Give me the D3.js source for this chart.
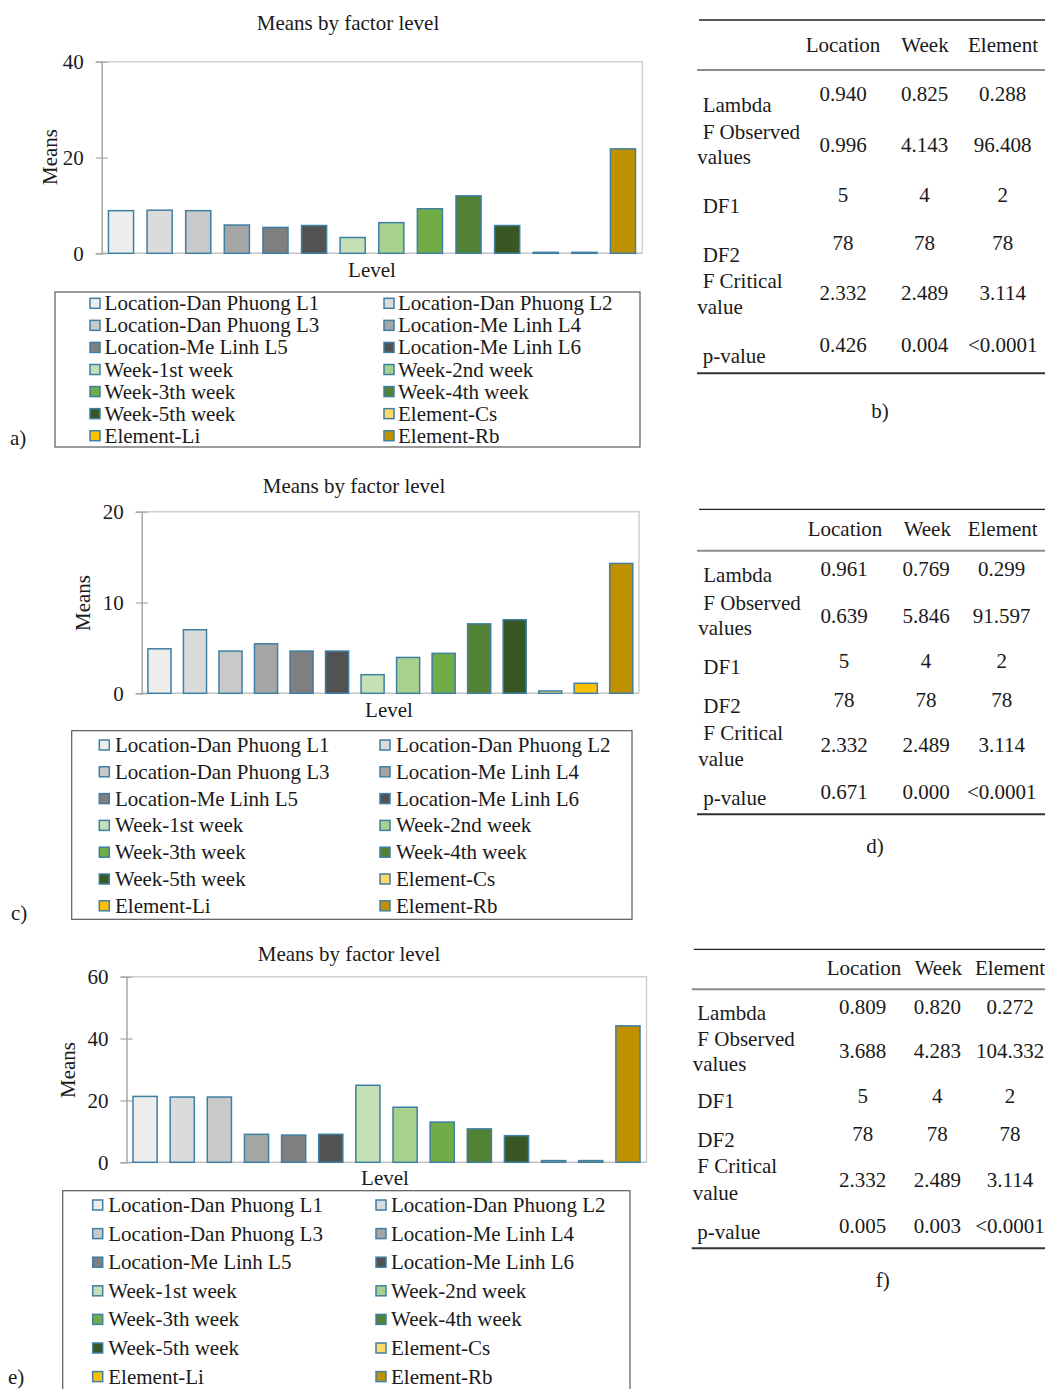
<!DOCTYPE html>
<html>
<head>
<meta charset="utf-8">
<script src="https://cdn.jsdelivr.net/npm/d3@7"></script>
<style>
  body { margin: 0; background: #fff; }
  svg { display: block; font-family: "Liberation Serif", "Times New Roman", serif; }
</style>
</head>
<body>
<svg id="fig" width="1045" height="1389"></svg>
<script>
// ---- Factor levels and their colours ----
const levels = [
  "Location-Dan Phuong L1", "Location-Dan Phuong L2",
  "Location-Dan Phuong L3", "Location-Me Linh L4",
  "Location-Me Linh L5", "Location-Me Linh L6",
  "Week-1st week", "Week-2nd week",
  "Week-3th week", "Week-4th week",
  "Week-5th week", "Element-Cs",
  "Element-Li", "Element-Rb"
];
const levelColors = [
  "#ededed", "#dbdbdb", "#c9c9c9", "#a5a5a5", "#7f7f7f", "#525252",
  "#c5e0b4", "#a9d18e", "#70ad47", "#548235", "#385723",
  "#ffd966", "#ffc000", "#bf9000"
];

// ---- Means by factor level (panels a, c, e) ----
const meansA = [8.9, 9.0, 8.9, 5.9, 5.4, 5.8, 3.3, 6.4, 9.3, 12.0, 5.8, 0.2, 0.2, 21.8];
const meansC = [4.9, 7.0, 4.65, 5.45, 4.65, 4.65, 2.05, 3.95, 4.4, 7.65, 8.1, 0.26, 1.1, 14.3];
const meansE = [21.3, 21.1, 21.1, 9.05, 8.8, 9.05, 24.9, 17.8, 13.0, 10.8, 8.6, 0.55, 0.55, 44.1];

const yTicksA = [0, 20, 40];
const yTicksC = [0, 10, 20];
const yTicksE = [0, 20, 40, 60];

// ---- MANOVA summary tables (panels b, d, f) ----
const tableHeaders = ["Location", "Week", "Element"];
const rowLabels = ["Lambda", "F Observed", "values", "DF1", "DF2", "F Critical", "value", "p-value"];
const rowIndented = [true, true, false, true, true, true, false, true];
const tableB = [
  ["0.940", "0.825", "0.288"],
  ["0.996", "4.143", "96.408"],
  ["5", "4", "2"],
  ["78", "78", "78"],
  ["2.332", "2.489", "3.114"],
  ["0.426", "0.004", "<0.0001"]
];
const tableD = [
  ["0.961", "0.769", "0.299"],
  ["0.639", "5.846", "91.597"],
  ["5", "4", "2"],
  ["78", "78", "78"],
  ["2.332", "2.489", "3.114"],
  ["0.671", "0.000", "<0.0001"]
];
const tableF = [
  ["0.809", "0.820", "0.272"],
  ["3.688", "4.283", "104.332"],
  ["5", "4", "2"],
  ["78", "78", "78"],
  ["2.332", "2.489", "3.114"],
  ["0.005", "0.003", "<0.0001"]
];

const svg = d3.select("#fig");
const FONT = 21;
const INK = "#1a1a1a";
const BAR_STROKE = "#3f7fa3";

// ---- Bar chart panels ----
const panels = [
  { means: meansA, ticks: yTicksA, left: 101.7, right: 642.3, top: 61.7, bottom: 253.3,
    title: [348, 30], level: [372, 277], yLab: [50, 157],
    legend: { x: 55, y: 292, w: 585, h: 155, sq: [90, 384], tx: [104.6, 398], row0: 303.3, step: 22.07 },
    tag: ["a)", 10, 445] },
  { means: meansC, ticks: yTicksC, left: 141.7, right: 639, top: 511.7, bottom: 693.3,
    title: [354, 493], level: [389, 717], yLab: [83, 603],
    legend: { x: 71.7, y: 730.7, w: 560.3, h: 188.6, sq: [99.3, 380], tx: [115, 396], row0: 745, step: 26.8 },
    tag: ["c)", 11, 920] },
  { means: meansE, ticks: yTicksE, left: 126.5, right: 646.5, top: 976.7, bottom: 1162.3,
    title: [349, 961], level: [385, 1185], yLab: [68, 1070],
    legend: { x: 62.7, y: 1190.7, w: 567.3, h: 215, sq: [92.7, 376], tx: [108.3, 391], row0: 1205, step: 28.6 },
    tag: ["e)", 8, 1384] }
];

panels.forEach(p => {
  const g = svg.append("g");
  const x = d3.scaleBand().domain(d3.range(levels.length))
    .range([p.left, p.right]).paddingInner(0.35).paddingOuter(0.175);
  const y = d3.scaleLinear().domain([0, d3.max(p.ticks)]).range([p.bottom, p.top]);

  // plot frame: light top/right edges
  g.append("path")
    .attr("d", `M${p.left},${p.top}H${p.right}V${p.bottom}`)
    .attr("fill", "none").attr("stroke", "#d0d0d0").attr("stroke-width", 1.5);
  // baseline
  g.append("line")
    .attr("x1", p.left).attr("x2", p.right).attr("y1", p.bottom).attr("y2", p.bottom)
    .attr("stroke", "#c4c4c4").attr("stroke-width", 1.5);

  // y axis
  const ax = g.append("g")
    .attr("transform", `translate(${p.left},0)`)
    .call(d3.axisLeft(y).tickValues(p.ticks).tickSize(6).tickPadding(12).tickFormat(d3.format("d")));
  ax.select(".domain").attr("stroke", "#a6a6a6").attr("stroke-width", 1.5);
  ax.selectAll(".tick line").attr("x1", -6).attr("x2", 6).attr("stroke", "#a6a6a6").attr("stroke-width", 1.2);
  ax.selectAll(".tick text")
    .attr("font-family", "Liberation Serif").attr("font-size", FONT).attr("fill", INK);

  // bars
  g.selectAll("rect.bar").data(p.means).join("rect")
    .attr("class", "bar")
    .attr("x", (d, i) => x(i))
    .attr("width", x.bandwidth())
    .attr("y", d => y(d))
    .attr("height", d => y(0) - y(d))
    .attr("fill", (d, i) => levelColors[i])
    .attr("stroke", BAR_STROKE).attr("stroke-width", 1.5);

  // titles
  g.append("text").attr("x", p.title[0]).attr("y", p.title[1])
    .attr("text-anchor", "middle").attr("font-size", FONT).attr("fill", INK)
    .text("Means by factor level");
  g.append("text").attr("x", p.level[0]).attr("y", p.level[1])
    .attr("text-anchor", "middle").attr("font-size", FONT).attr("fill", INK)
    .text("Level");
  g.append("text")
    .attr("transform", `translate(${p.yLab[0]},${p.yLab[1]}) rotate(-90)`)
    .attr("text-anchor", "middle").attr("dominant-baseline", "central")
    .attr("font-size", FONT).attr("fill", INK)
    .text("Means");

  // legend
  const L = p.legend;
  g.append("rect").attr("x", L.x).attr("y", L.y).attr("width", L.w).attr("height", L.h)
    .attr("fill", "none").attr("stroke", "#595959").attr("stroke-width", 1.2);
  const items = g.selectAll("g.item").data(levels).join("g").attr("class", "item")
    .attr("transform", (d, i) => `translate(0,${L.row0 + Math.floor(i / 2) * L.step})`);
  items.append("rect")
    .attr("x", (d, i) => L.sq[i % 2]).attr("y", -5)
    .attr("width", 10).attr("height", 10)
    .attr("fill", (d, i) => levelColors[i])
    .attr("stroke", BAR_STROKE).attr("stroke-width", 1.5);
  items.append("text")
    .attr("x", (d, i) => L.tx[i % 2]).attr("y", 0)
    .attr("dominant-baseline", "central")
    .attr("font-size", FONT).attr("fill", INK)
    .text(d => d);

  // panel tag
  g.append("text").attr("x", p.tag[1]).attr("y", p.tag[2])
    .attr("font-size", FONT).attr("fill", INK).text(p.tag[0]);
});

// ---- Tables ----
const tables = [
  { rows: tableB, x0: 697, x1: 1045, top: 20, head: 70, bottom: 373.3,
    headY: 51.7, headX: [843, 925, 1003], colX: [843, 924.5, 1002.7],
    labelX: [702.7, 697.3], labelY: [111.7, 139.3, 164, 212.7, 261.7, 288.3, 314, 362.7],
    valueY: [100.7, 151.7, 201.7, 250, 300, 351.7], tag: ["b)", 880, 418] },
  { rows: tableD, x0: 697, x1: 1045, top: 509.3, head: 550.7, bottom: 814.3,
    headY: 536, headX: [845, 927.3, 1002.7], colX: [844, 926, 1001.7],
    labelX: [703.3, 698.3], labelY: [581.7, 610, 635, 674, 712.7, 740, 765.7, 805],
    valueY: [576, 623.3, 667.7, 706.7, 752.3, 799.3], tag: ["d)", 875, 852.7] },
  { rows: tableF, x0: 691.7, x1: 1045, top: 949.3, head: 989.3, bottom: 1248.3,
    headY: 975, headX: [864, 938.3, 1010], colX: [862.7, 937.3, 1010],
    labelX: [697.3, 692.7], labelY: [1020, 1046, 1071, 1108.3, 1146.7, 1173.3, 1200, 1239.3],
    valueY: [1014, 1058.3, 1103.3, 1141, 1186.7, 1233.3], tag: ["f)", 882.7, 1286.7] }
];

tables.forEach(t => {
  const g = svg.append("g").attr("font-size", FONT).attr("fill", INK);
  g.append("line").attr("x1", t.x0 + 2).attr("x2", t.x1).attr("y1", t.top).attr("y2", t.top)
    .attr("stroke", "#222").attr("stroke-width", 1.3);
  g.append("line").attr("x1", t.x0).attr("x2", t.x1).attr("y1", t.head).attr("y2", t.head)
    .attr("stroke", "#8c8c8c").attr("stroke-width", 2);
  g.append("line").attr("x1", t.x0).attr("x2", t.x1).attr("y1", t.bottom).attr("y2", t.bottom)
    .attr("stroke", "#333").attr("stroke-width", 2);

  g.selectAll("text.head").data(tableHeaders).join("text").attr("class", "head")
    .attr("x", (d, i) => t.headX[i]).attr("y", t.headY)
    .attr("text-anchor", "middle").text(d => d);

  g.selectAll("text.lab").data(rowLabels).join("text").attr("class", "lab")
    .attr("x", (d, i) => rowIndented[i] ? t.labelX[0] : t.labelX[1])
    .attr("y", (d, i) => t.labelY[i]).text(d => d);

  t.rows.forEach((row, r) => {
    g.selectAll(`text.v${r}`).data(row).join("text").attr("class", `v${r}`)
      .attr("x", (d, i) => t.colX[i]).attr("y", t.valueY[r])
      .attr("text-anchor", "middle").text(d => d);
  });

  g.append("text").attr("x", t.tag[1]).attr("y", t.tag[2])
    .attr("text-anchor", "middle").text(t.tag[0]);
});
</script>
</body>
</html>
